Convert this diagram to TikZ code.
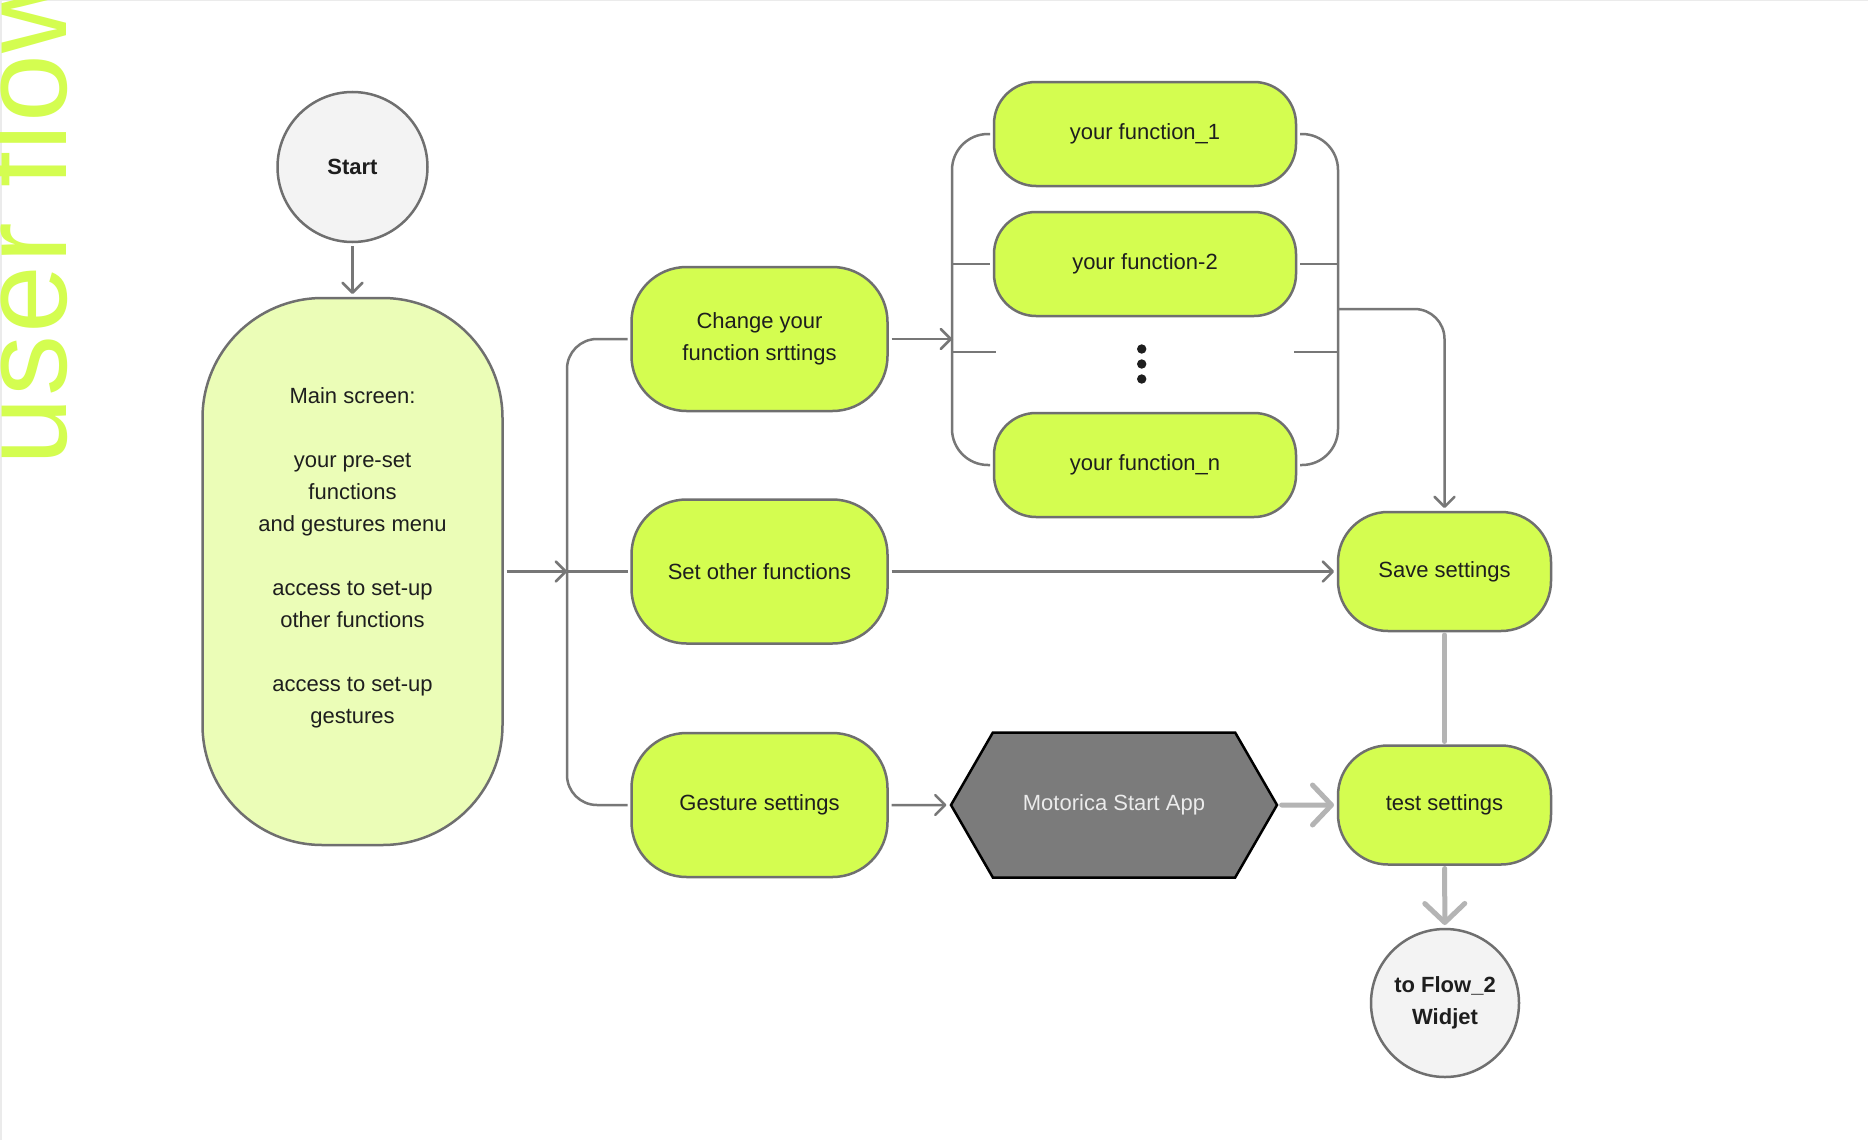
\documentclass[tikz,border=0pt]{standalone}
\usepackage{fontspec}
\setmainfont{Liberation Sans}
\usetikzlibrary{positioning,arrows.meta,shapes.symbols}
\definecolor{lime}{HTML}{D4FD50}
\definecolor{palelime}{HTML}{EBFDB7}
\definecolor{edgegray}{HTML}{6F6F6F}
\definecolor{wiregray}{HTML}{777777}
\definecolor{palegray}{HTML}{B4B4B4}
\definecolor{ink}{HTML}{1E1E1E}
\definecolor{disc}{HTML}{F3F3F3}
\definecolor{appgray}{HTML}{7B7B7B}

\begin{document}
\begin{tikzpicture}[
    x=1pt, y=-1pt,
    txt/.style={font=\fontsize{22}{32}\selectfont, text=ink, align=center},
    pill/.style={txt, draw=edgegray, line width=2.5pt, fill=lime, outer sep=4pt},
    stepbox/.style={pill, minimum width=256pt, minimum height=144pt, rounded corners=55pt},
    func/.style={pill, minimum width=302pt, minimum height=104pt, rounded corners=42pt},
    endbox/.style={pill, minimum width=213pt, minimum height=119pt, rounded corners=50pt},
    terminal/.style={txt, circle, draw=edgegray, line width=2.5pt, fill=disc, minimum size=150pt, outer sep=4pt, font=\fontsize{22}{32}\selectfont\bfseries},
    wire/.style={draw=wiregray, line width=2.5pt},
    arrow/.style={wire, -{Straight Barb[length=10pt, width=20pt, round]}},
    bold/.style={draw=palegray, line width=5pt, line cap=round},
    boldarrow/.style={bold, -{Straight Barb[length=19pt, width=40pt, round]}},
]
\useasboundingbox (0,0) rectangle (1868,1140);
\clip (0,0) rectangle (1868,1140);
\fill[white] (0,0) rectangle (1868,1140);
\draw[black!8, line width=3pt] (0,1140) -- (0,0) -- (1868,0);

% Title
\node[rotate=90, anchor=base west, inner sep=0pt, text=lime, font=\fontsize{122}{122}\selectfont\addfontfeatures{LetterSpace=1.5}] (title) at (66,466) {user flow};

% Start and main screen
\node[terminal] (start) at (352.5,167) {Start};
\node[pill, fill=palelime, minimum width=300pt, minimum height=547pt, rounded corners=120pt] (main) at (352.5,571.5)
    {Main screen:\\[32pt]your pre-set\\functions\\and gestures menu\\[32pt]access to set-up\\other functions\\[32pt]access to set-up\\gestures\\\mbox{}};

% Settings steps
\node[stepbox] (change) at (759.5,339) {Change your\\function srttings};
\node[stepbox] (other) at (759.5,571.5) {Set other functions};
\node[stepbox] (gesture) at (759.5,805) {Gesture settings};

% Function list
\node[func] (f1) at (1145,134) {your function\_1};
\node[func] (f2) at (1145,264) {your function-2};
\node[func] (fn) at (1145,465) {your function\_n};
\foreach \y in {349,364,379}
    \fill[ink] (1141.7,\y) circle (4.7pt);

% App
\node[signal, signal to=east and west, signal pointer angle=120, draw=black, line width=2.5pt, fill=appgray,
    text=white!92!black, font=\fontsize{22}{32}\selectfont, minimum width=326pt, minimum height=145pt,
    outer sep=4pt] (app) at (1114,805) {Motorica Start App};

% Right column
\node[endbox] (save) at (1444.5,571.5) {Save settings};
\node[endbox] (test) at (1444.5,805) {test settings};
\node[terminal, minimum size=148pt] (flow2) at (1445,1003) {to Flow\_2\\Widjet};

% Left bus
\coordinate (lbus) at (567,571.5);
\draw[arrow] (start) -- (main);
\draw[arrow] (main) -- (lbus);
\draw[wire] (lbus) -- (other);
\draw[wire, rounded corners=30pt] (lbus) |- (change);
\draw[wire, rounded corners=30pt] (lbus) |- (gesture);

% Function bus
\coordinate (fbusL) at (952,339);
\coordinate (fbusR) at (1338,309);
\coordinate (dotsL) at (996,352);
\coordinate (dotsR) at (1294,352);
\draw[arrow] (change) -- (fbusL);
\draw[wire, rounded corners=36pt] (fbusL) |- (f1);
\draw[wire, rounded corners=36pt] (fbusL) |- (fn);
\draw[wire] (fbusL |- f2) -- (f2);
\draw[wire] (fbusL |- dotsL) -- (dotsL);
\draw[wire, rounded corners=36pt] (f1) -| (fbusR) |- (fn);
\draw[wire] (f2) -- (f2 -| fbusR);
\draw[wire] (dotsR) -- (dotsR -| fbusR);
\draw[arrow, rounded corners=30pt] (fbusR) -| (save);

% Other arrows
\draw[arrow] (other) -- (save);
\draw[arrow] (gesture) -- (app);
\draw[boldarrow] (app) -- (test);
\draw[bold] (save) -- (test);
\draw[boldarrow] (test) -- (flow2);
\end{tikzpicture}
\end{document}
